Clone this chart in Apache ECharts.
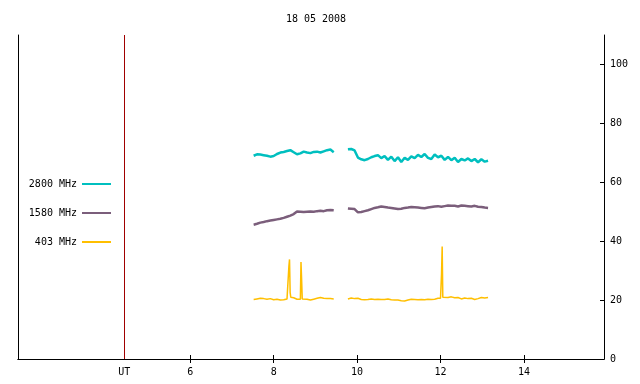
<!DOCTYPE html>
<html>
<head>
<meta charset="utf-8">
<script src="https://cdn.jsdelivr.net/npm/echarts@6/dist/echarts.min.js"></script>
<style>
  html, body { margin: 0; padding: 0; background: #fff; }
  #chart { width: 640px; height: 384px; }
</style>
</head>
<body>
<div id="chart"></div>
<script>
// UT hours for the two observing blocks (sampled every 0.08 h)
var seg1Start = 7.52, seg2Start = 9.78, step = 0.08;

var f2800a = [69.0, 69.5, 69.4, 69.2, 69.0, 68.7, 68.9, 69.6, 70.1, 70.3, 70.6, 70.9, 70.2,
  69.5, 69.8, 70.4, 70.1, 69.9, 70.3, 70.4, 70.1, 70.5, 70.9, 71.1, 70.2];
var f2800b = [71.2, 71.3, 70.8, 68.4, 67.8, 67.5, 67.9, 68.5, 68.9, 69.2, 68.2, 68.9, 67.6,
  68.7, 67.2, 68.5, 66.9, 68.3, 67.6, 68.8, 68.2, 69.3, 68.6, 69.6, 68.3, 67.9, 69.4, 68.5,
  69.0, 67.6, 68.6, 67.5, 68.3, 66.9, 67.9, 67.4, 68.1, 67.2, 67.9, 66.8, 67.8, 67.0, 67.3];

var f1580a = [45.6, 45.9, 46.3, 46.5, 46.8, 47.0, 47.2, 47.4, 47.6, 47.9, 48.3, 48.7, 49.2,
  50.1, 50.0, 49.9, 50.0, 50.1, 50.0, 50.2, 50.3, 50.2, 50.5, 50.6, 50.5];
var f1580b = [51.1, 51.0, 50.9, 49.8, 49.9, 50.2, 50.5, 50.9, 51.3, 51.5, 51.8, 51.6, 51.4,
  51.3, 51.1, 50.9, 51.0, 51.3, 51.4, 51.6, 51.5, 51.4, 51.3, 51.2, 51.4, 51.6, 51.8, 51.9,
  51.7, 51.9, 52.1, 52.0, 52.0, 51.8, 52.1, 52.0, 51.9, 51.8, 52.0, 51.7, 51.6, 51.4, 51.3];

// 403 MHz has narrow bursts, so it keeps its own times
var t403a = [7.52, 7.60, 7.68, 7.76, 7.84, 7.92, 8.00, 8.08, 8.16, 8.24, 8.32, 8.35, 8.365,
  8.38, 8.395, 8.41, 8.48, 8.56, 8.64, 8.655, 8.67, 8.685, 8.72, 8.80, 8.88, 8.96, 9.04,
  9.12, 9.20, 9.28, 9.36, 9.44];
var f403a = [20.2, 20.4, 20.6, 20.5, 20.3, 20.5, 20.1, 20.3, 20.0, 20.1, 20.4, 20.6, 31.5,
  33.8, 22.5, 21.0, 20.8, 20.3, 20.3, 32.9, 27.0, 20.4, 20.1, 20.3, 20.0, 20.3, 20.6,
  20.9, 20.6, 20.5, 20.5, 20.4];
var t403b = [9.78, 9.86, 9.94, 10.02, 10.10, 10.18, 10.26, 10.34, 10.42, 10.50, 10.58, 10.66,
  10.74, 10.82, 10.90, 10.98, 11.06, 11.14, 11.22, 11.30, 11.38, 11.46, 11.54, 11.62, 11.70,
  11.78, 11.86, 11.94, 12.00, 12.025, 12.04, 12.055, 12.10, 12.18, 12.26, 12.34, 12.42,
  12.50, 12.58, 12.66, 12.74, 12.82, 12.90, 12.98, 13.06, 13.14];
var f403b = [20.4, 20.7, 20.5, 20.6, 20.2, 20.1, 20.2, 20.4, 20.2, 20.3, 20.2, 20.2,
  20.4, 20.1, 20.0, 20.0, 19.8, 19.7, 20.0, 20.3, 20.2, 20.1, 20.2, 20.1, 20.3,
  20.2, 20.3, 20.6, 20.6, 29.0, 38.2, 21.0, 20.8, 20.9, 21.1, 20.8, 20.9,
  20.4, 20.7, 20.5, 20.6, 20.2, 20.5, 20.9, 20.7, 20.9];

var utMark = 4.415;
var xTicks = [6, 8, 10, 12, 14];
var yTicks = [0, 20, 40, 60, 80, 100];

function gridPairs(start, vals) {
  return vals.map(function (v, i) { return [+(start + i * step).toFixed(3), v]; });
}
function pairs(ts, vals) {
  return ts.map(function (t, i) { return [t, vals[i]]; });
}
function joined(a, b) {
  return a.concat([[9.6, '-']]).concat(b);
}

var font = { fontFamily: 'DejaVu Sans Mono', fontSize: 10, color: '#000' };

var chart = echarts.init(document.getElementById('chart'));

function legendFor(name, top) {
  return {
    data: [name],
    right: 529,
    top: top,
    align: 'right',
    padding: 0,
    itemWidth: 29,
    itemHeight: 2,
    icon: 'rect',
    selectedMode: false,
    textStyle: font
  };
}

chart.setOption({
  animation: false,
  title: {
    text: '18 05 2008',
    left: 311,
    textAlign: 'center',
    top: 9,
    textStyle: { fontFamily: 'DejaVu Sans Mono', fontSize: 10, fontWeight: 'normal', color: '#000' }
  },
  legend: [
    legendFor('2800 MHz', 179),
    legendFor('1580 MHz', 208),
    legendFor('403 MHz', 237)
  ],
  grid: { left: 18, right: 36, top: 35, bottom: 25 },
  xAxis: [{
    type: 'value',
    min: 1.87,
    max: 15.92,
    axisLine: { lineStyle: { color: '#000', width: 1 } },
    axisTick: { inside: true, length: 4, customValues: xTicks, lineStyle: { color: '#000' } },
    axisLabel: {
      customValues: [utMark].concat(xTicks),
      formatter: function (v) { return v === utMark ? 'UT' : String(v); },
      margin: 8,
      fontFamily: 'DejaVu Sans Mono', fontSize: 10, color: '#000'
    },
    splitLine: { show: false }
  }, {
    type: 'value',
    position: 'top',
    min: 1.87,
    max: 15.92,
    axisLine: { lineStyle: { color: '#000', width: 1 } },
    axisTick: { inside: true, length: 4, customValues: xTicks, lineStyle: { color: '#000' } },
    axisLabel: { show: false },
    splitLine: { show: false }
  }],
  yAxis: [{
    type: 'value',
    position: 'right',
    min: 0,
    max: 110,
    axisLine: { show: true, lineStyle: { color: '#000', width: 1 } },
    axisTick: { show: true, inside: true, length: 4, customValues: yTicks, lineStyle: { color: '#000' } },
    axisLabel: { customValues: yTicks, margin: 6, fontFamily: 'DejaVu Sans Mono', fontSize: 10, color: '#000' },
    splitLine: { show: false }
  }, {
    type: 'value',
    position: 'left',
    min: 0,
    max: 110,
    axisLine: { show: true, lineStyle: { color: '#000', width: 1 } },
    axisTick: { show: false },
    axisLabel: { show: false },
    splitLine: { show: false }
  }],
  series: [{
    name: '2800 MHz',
    type: 'line',
    showSymbol: false,
    color: '#00bfbf',
    lineStyle: { width: 2.5 },
    data: joined(gridPairs(seg1Start, f2800a), gridPairs(seg2Start, f2800b)),
    markLine: {
      silent: true,
      symbol: 'none',
      label: { show: false },
      lineStyle: { color: '#a00000', width: 1, type: 'solid' },
      data: [{ xAxis: utMark }]
    }
  }, {
    name: '1580 MHz',
    type: 'line',
    showSymbol: false,
    color: '#7b5e7b',
    lineStyle: { width: 2.5 },
    data: joined(gridPairs(seg1Start, f1580a), gridPairs(seg2Start, f1580b))
  }, {
    name: '403 MHz',
    type: 'line',
    showSymbol: false,
    color: '#ffbf00',
    lineStyle: { width: 1.5 },
    data: joined(pairs(t403a, f403a), pairs(t403b, f403b))
  }]
});
</script>
</body>
</html>
